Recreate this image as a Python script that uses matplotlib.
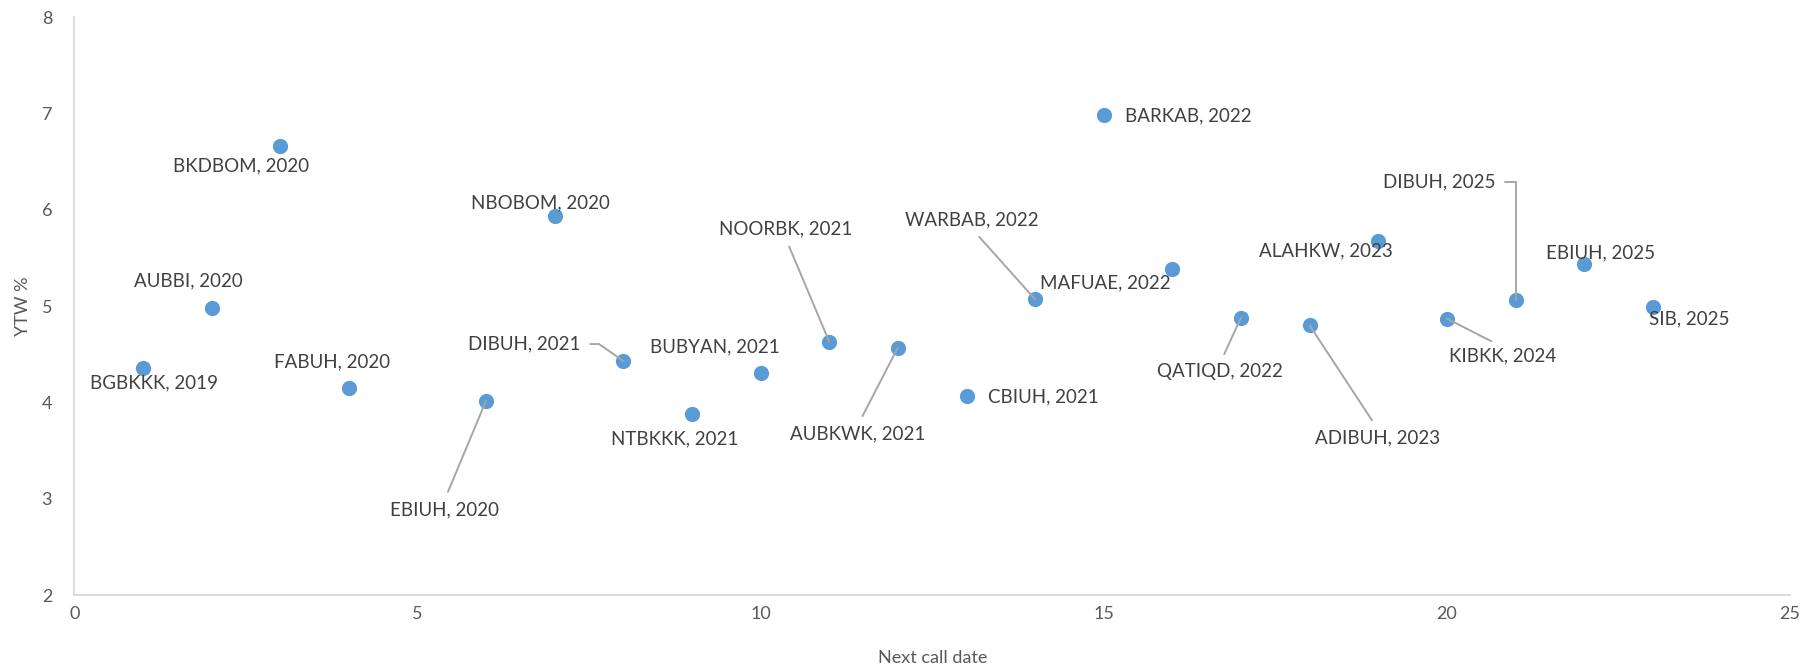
import matplotlib
matplotlib.use("Agg")
import matplotlib.pyplot as plt

plt.rcParams['font.family'] = ['Lato', 'DejaVu Sans']

names = ["BGBKKK, 2019", "AUBBI, 2020", "BKDBOM, 2020", "FABUH, 2020", "EBIUH, 2020",
         "NBOBOM, 2020", "DIBUH, 2021", "NTBKKK, 2021", "BUBYAN, 2021", "NOORBK, 2021",
         "AUBKWK, 2021", "CBIUH, 2021", "WARBAB, 2022", "BARKAB, 2022", "MAFUAE, 2022",
         "QATIQD, 2022", "ADIBUH, 2023", "ALAHKW, 2023", "KIBKK, 2024", "DIBUH, 2025",
         "EBIUH, 2025", "SIB, 2025"]
call_date = [1, 2, 3, 4, 6, 7, 8, 9, 10, 11, 12, 13, 14, 15, 16, 17, 18, 19, 20, 21, 22, 23]
ytw = [4.36, 4.98, 6.66, 4.15, 4.02, 5.93, 4.43, 3.88, 4.31, 4.63, 4.57, 4.07,
       5.07, 6.98, 5.38, 4.88, 4.80, 5.68, 4.87, 5.06, 5.44, 4.99]

# label placement: offset in pixels from the point (x right, y up)
offsets = [(11, -15), (-23, 27), (-39, -20), (-17, 26), (-42, -109), (-14, 14), (-99, 17),
           (-17, -25), (-46, 26), (-44, 113), (-40, -86), (77, -1), (-63, 79), (85, -1),
           (-67, -13), (-21, -54), (68, -112), (-52, -10), (56, -37), (-76, 118), (16, 11),
           (36, -12)]
# leader lines: index -> (relpos on text, connection style)
leaders = {4: ((0.5, 1.0), "arc3"),
           6: ((1.0, 0.5), "angle,angleA=0,angleB=145,rad=0"),
           9: ((0.5, 0.0), "arc3"),
           10: ((0.5, 1.0), "arc3"),
           12: ((0.5, 0.0), "arc3"),
           15: ((0.5, 1.0), "arc3"),
           16: ((0.5, 1.0), "arc3"),
           18: ((0.5, 1.0), "arc3"),
           19: ((1.0, 0.5), "angle,angleA=0,angleB=90,rad=0")}

fig = plt.figure(figsize=(18.05, 6.68), dpi=100)
ax = fig.add_axes([0.0412, 0.109, 0.9505, 0.8655])

ax.scatter(call_date, ytw, s=120, color='#5B9BD5', zorder=3, linewidths=0)

for i, (n, x, y) in enumerate(zip(names, call_date, ytw)):
    dx, dy = offsets[i]
    kw = dict(xy=(x, y), xytext=(dx, dy), textcoords='offset pixels',
              ha='center', va='center', fontsize=13.5, color='#404040', zorder=4)
    if i in leaders:
        rp, cs = leaders[i]
        kw['arrowprops'] = dict(arrowstyle='-', color='#a6a6a6', lw=1.4,
                                shrinkA=5, shrinkB=0, relpos=rp, connectionstyle=cs)
    ax.annotate(n, **kw)

ax.set_xlim(0, 25)
ax.set_ylim(2, 8)
ax.set_xticks([0, 5, 10, 15, 20, 25])
ax.set_yticks([2, 3, 4, 5, 6, 7, 8])
for s in ['top', 'right']:
    ax.spines[s].set_visible(False)
for s in ['left', 'bottom']:
    ax.spines[s].set_color('#d9d9d9')
    ax.spines[s].set_linewidth(1.3)
ax.tick_params(length=0, labelsize=13, colors='#595959')
ax.tick_params(axis='y', pad=16)
ax.tick_params(axis='x', pad=8)
ax.set_xlabel('Next call date', fontsize=13, color='#595959', labelpad=20)
ax.set_ylabel('YTW %', fontsize=13, color='#595959', labelpad=8)

fig.savefig('out.png', dpi=100)
